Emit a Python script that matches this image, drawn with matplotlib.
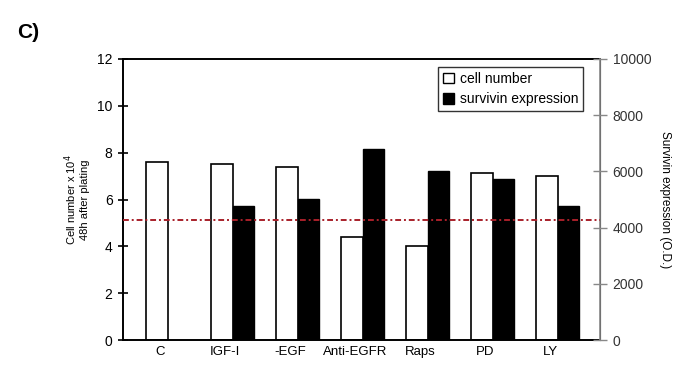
import matplotlib
matplotlib.use("Agg")
import matplotlib.pyplot as plt
import numpy as np
from matplotlib.patches import Patch

plt.rcParams['font.family'] = ['Liberation Sans', 'DejaVu Sans']

categories = ["C", "IGF-I", "-EGF", "Anti-EGFR", "Raps", "PD", "LY"]
cell_number = [7.6, 7.5, 7.4, 4.4, 4.0, 7.15, 7.0]
survivin = [np.nan, 4770, 5020, 6790, 6025, 5720, 4770]
reference_level = 4270

fig = plt.figure(figsize=(6.78, 3.66), dpi=100)
ax = fig.add_axes([123/678, 26/366, 477/678, 281/366])
ax2 = ax.twinx()

x = np.arange(len(categories))
w = 0.34
ax.bar(x, cell_number, width=-w, align='edge', color='white', edgecolor='black', linewidth=1.2, zorder=2)
ax2.bar(x, survivin, width=0.33, align='edge', color='black', edgecolor='black', linewidth=1.0, zorder=2)
ax2.axhline(reference_level, color='#a8202a', linestyle=(0, (3, 1.5, 1, 1.5)), linewidth=1.4, zorder=3)

ax.set_xlim(-0.692, 6.646)
ax.set_ylim(0, 12)
ax2.set_ylim(0, 10000)
ax.set_yticks(np.arange(0, 13, 2))
ax2.set_yticks(np.arange(0, 10001, 2000))
ax.set_xticks(x - 0.12)
ax.set_xticklabels(categories, fontsize=9.5)
ax.tick_params(axis='x', length=0, pad=4)
ax.tick_params(axis='y', direction='inout', length=7, width=1.2, labelsize=10, pad=4)
ax2.tick_params(axis='y', direction='inout', length=10, width=1.0, labelsize=10, pad=4, colors='#333333', color='#888888')

for s in ['left', 'top', 'bottom']:
    ax.spines[s].set_linewidth(1.4)
    ax.spines[s].set_color('black')
ax2.spines['right'].set_color('#888888')
ax2.spines['right'].set_linewidth(1.2)
for s in ['left', 'top', 'bottom']:
    ax2.spines[s].set_visible(False)

ax.set_ylabel("Cell number x 10$^{4}$\n48h after plating", fontsize=8, labelpad=5)
ax2.set_ylabel("Survivin expression (O.D.)", fontsize=8.5, rotation=270, labelpad=14)

handles = [Patch(facecolor='white', edgecolor='black', label='cell number'),
           Patch(facecolor='black', edgecolor='black', label='survivin expression')]
leg = ax2.legend(handles=handles, loc='upper right', bbox_to_anchor=(583/678, (366-67)/366),
                 bbox_transform=fig.transFigure, fontsize=10, frameon=True, fancybox=False,
                 edgecolor='black', handlelength=0.8, handleheight=0.8, handletextpad=0.4,
                 borderpad=0.35, labelspacing=0.45, borderaxespad=0)
leg.get_frame().set_linewidth(1.0)

fig.text(17/678, 1 - 38/366, "C)", fontsize=15, fontweight='bold', ha='left', va='baseline')

fig.savefig("out.png", dpi=100)
